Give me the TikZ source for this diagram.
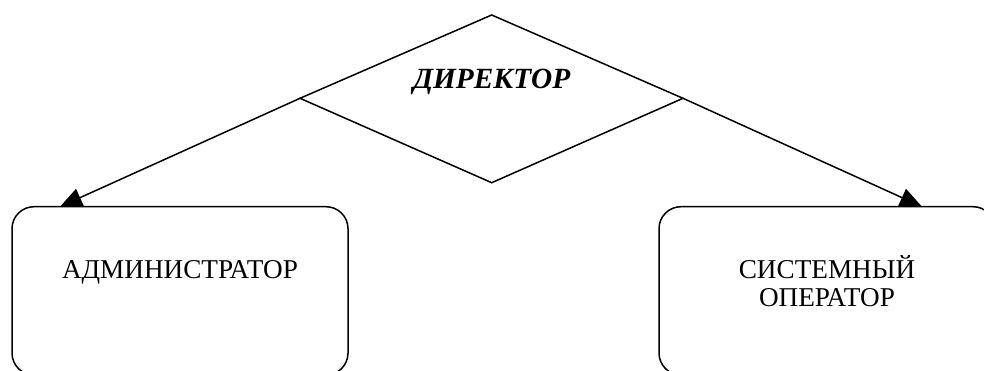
\documentclass[tikz,border=0pt]{standalone}
\usepackage{fontspec}
\setmainfont{Liberation Serif}
\usetikzlibrary{arrows.meta}

\tikzset{
  edge/.style={line width=1.5pt, draw=black},
  rolebox/.style={draw=black, line width=1.5pt, rounded corners=22pt, fill=white,
    inner sep=0pt, outer sep=0pt, minimum width=336pt, minimum height=168.3pt},
  roletext/.style={anchor=base, align=center, inner sep=0pt,
    font=\fontsize{27.2}{28.4}\selectfont},
  headtext/.style={anchor=base, inner sep=0pt,
    font=\fontsize{29.3}{32}\selectfont\bfseries\itshape},
  link/.style={edge, -{Triangle[length=22pt,width=19pt]}},
}

\begin{document}
\begin{tikzpicture}[x=1pt,y=-1pt]
  \useasboundingbox (0,0) rectangle (984,371);
  \clip (0,0) rectangle (984,371);

  % decision diamond of the director
  \coordinate (dtop) at (491.7,15);
  \coordinate (dleft) at (300,98.3);
  \coordinate (dbottom) at (491.7,182.7);
  \coordinate (dright) at (683,98.3);
  \draw[edge, line join=miter] (dtop) -- (dright) -- (dbottom) -- (dleft) -- cycle;
  \node[headtext] (dir) at (491.7,88.3) {ДИРЕКТОР};

  % subordinate roles
  \node[rolebox] (adm) at (180,290.85) {};
  \node[roletext] (admtext) at (180,278.3) {АДМИНИСТРАТОР};
  \node[rolebox] (sys) at (827,290.85) {};
  % base of a two-line node is the baseline of its last line
  \node[roletext] (systext) at (827,306.7) {СИСТЕМНЫЙ\\ОПЕРАТОР};

  % arrow ends on the top edges of the boxes
  \coordinate (admin) at ([xshift=48pt]adm.north west);
  \coordinate (sysin) at ([xshift=-73pt]sys.north east);

  \draw[link] (dleft) -- (admin);
  \draw[link] (dright) -- (sysin);
\end{tikzpicture}
\end{document}
